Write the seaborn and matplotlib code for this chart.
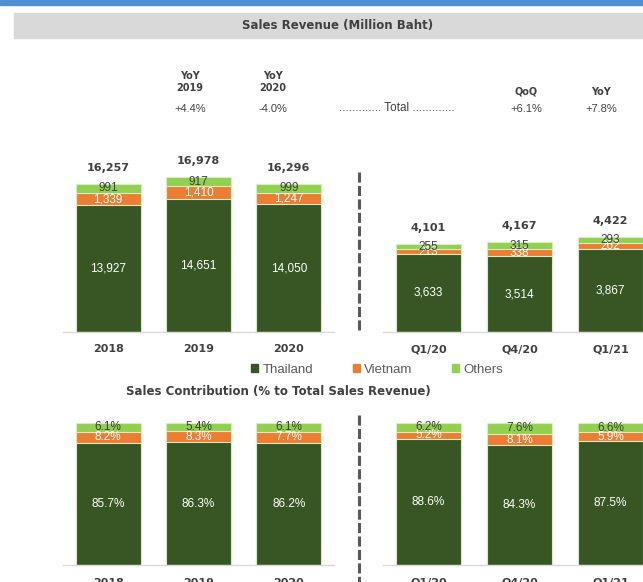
import matplotlib.pyplot as plt
import seaborn as sns
import pandas as pd
from matplotlib.patches import Rectangle, Patch
from matplotlib.lines import Line2D

years = ['2018', '2019', '2020']
quarters = ['Q1/20', 'Q4/20', 'Q1/21']

thailand_year = [13927, 14651, 14050]
vietnam_year = [1339, 1410, 1247]
others_year = [991, 917, 999]

thailand_qtr = [3633, 3514, 3867]
vietnam_qtr = [213, 338, 262]
others_qtr = [255, 315, 293]

thailand_pct_year = [85.7, 86.3, 86.2]
vietnam_pct_year = [8.2, 8.3, 7.7]
others_pct_year = [6.1, 5.4, 6.1]

thailand_pct_qtr = [88.6, 84.3, 87.5]
vietnam_pct_qtr = [5.2, 8.1, 5.9]
others_pct_qtr = [6.2, 7.6, 6.6]

growth_heads = ['YoY\n2019', 'YoY\n2020', 'QoQ', 'YoY']
growth_values = ['+4.4%', '-4.0%', '+6.1%', '+7.8%']

C_TH = '#375623'
C_VN = '#ED7D31'
C_OT = '#92D050'
EDGE = '#d8ecc8'
DARK = '#404040'
BOLD = ['DejaVu Sans']
BODY = ['Liberation Sans', 'DejaVu Sans']

W, H = 643, 582
sns.set_style('white')
fig = plt.figure(figsize=(W / 100, H / 100), dpi=100)


def box(l, r, top, bottom):
    # pixel box (from top-left) -> figure coords
    return [l / W, (H - bottom) / H, (r - l) / W, (bottom - top) / H]


def stacked(ax, cats, th, vn, ot, ymax, fmt, show_total):
    df = pd.DataFrame({'cat': cats, 'Thailand': th, 'Vietnam': vn, 'Others': ot})
    df['top2'] = df['Thailand'] + df['Vietnam']
    df['top3'] = df['top2'] + df['Others']
    for col, c in [('top3', C_OT), ('top2', C_VN), ('Thailand', C_TH)]:
        sns.barplot(data=df, x='cat', y=col, color=c, saturation=1, width=0.72,
                    edgecolor=EDGE, linewidth=0.8, ax=ax)
    for i, r in df.iterrows():
        ax.text(i, r['Thailand'] / 2, fmt(r['Thailand']), ha='center', va='center',
                color='white', fontsize=8.5, family=BODY)
        ax.text(i, r['Thailand'] + r['Vietnam'] / 2, fmt(r['Vietnam']), ha='center',
                va='center', color='white', fontsize=8.5, family=BODY)
        ax.text(i, r['top2'] + r['Others'] / 2, fmt(r['Others']), ha='center',
                va='center', color=DARK, fontsize=8.5, family=BODY)
        if show_total:
            ax.annotate(fmt(r['top3']), (i, r['top3']), xytext=(0, 11.5),
                        textcoords='offset points', ha='center', va='center',
                        fontsize=8, fontweight='bold', color=DARK, family=BOLD)
    ax.set_xlim(-0.5, 2.5)
    ax.set_ylim(0, ymax)
    ax.set_xlabel('')
    ax.set_ylabel('')
    ax.set_yticks([])
    for s in ['top', 'left', 'right']:
        ax.spines[s].set_visible(False)
    ax.spines['bottom'].set_color('#d9d9d9')
    ax.spines['bottom'].set_linewidth(1)
    ax.tick_params(axis='x', length=0, pad=9, labelsize=8, labelcolor=DARK)
    for t in ax.get_xticklabels():
        t.set_fontweight('bold')
        t.set_family(BOLD)
    ax.patch.set_alpha(0)


num = lambda v: f'{int(round(v)):,}'
pct = lambda v: f'{v:.1f}%'

ax1 = fig.add_axes(box(63, 334, 160, 332))
stacked(ax1, years, thailand_year, vietnam_year, others_year, 172 / 0.00911, num, True)
ax2 = fig.add_axes(box(383, 656, 160, 332))
stacked(ax2, quarters, thailand_qtr, vietnam_qtr, others_qtr, 172 / 0.0215, num, True)
ax3 = fig.add_axes(box(63, 334, 423, 565))
stacked(ax3, years, thailand_pct_year, vietnam_pct_year, others_pct_year, 100, pct, False)
ax4 = fig.add_axes(box(383, 656, 423, 565))
stacked(ax4, quarters, thailand_pct_qtr, vietnam_pct_qtr, others_pct_qtr, 100, pct, False)

# header band and title box
fig.patches.append(Rectangle((0, (H - 5) / H), 1, 5 / H, transform=fig.transFigure,
                             color='#4f8fd0', zorder=0))
fig.patches.append(Rectangle((14 / W, (H - 38) / H), (W - 14) / W, 25 / H,
                             transform=fig.transFigure, color='#d9d9d9', zorder=0))
fig.text(338 / W, (H - 26) / H, 'Sales Revenue (Million Baht)', ha='center', va='center',
         fontsize=8.5, fontweight='bold', color=DARK, family=BOLD)

# growth header
head_x = [190, 273, 526, 601]
for x, h, v in zip(head_x, growth_heads, growth_values):
    y_head = 82 if '\n' in h else 92
    fig.text(x / W, (H - y_head) / H, h, ha='center', va='center', fontsize=7,
             fontweight='bold', color=DARK, family=BOLD, linespacing=1.15)
    fig.text(x / W, (H - 109) / H, v, ha='center', va='center', fontsize=8,
             color=DARK, family=BODY)
fig.text(397 / W, (H - 108) / H, '............. Total .............', ha='center',
         va='center', fontsize=8.5, color=DARK, family=BODY)

# dashed separators
for y0, y1 in [(172, 330), (415, 582)]:
    fig.add_artist(Line2D([358.5 / W, 358.5 / W], [(H - y0) / H, (H - y1) / H],
                          transform=fig.transFigure, color='#595959', lw=2.2,
                          linestyle=(0, (3.3, 1.1)), solid_capstyle='butt',
                          dash_capstyle='butt'))

handles = [Patch(color=C_TH, label='Thailand'), Patch(color=C_VN, label='Vietnam'),
           Patch(color=C_OT, label='Others')]
fig.legend(handles=handles, loc='center', bbox_to_anchor=(377 / W, (H - 370) / H),
           ncol=3, frameon=False, prop={'family': BODY, 'size': 9.5},
           handlelength=0.55, handleheight=0.55, handletextpad=0.3,
           columnspacing=3.0, labelcolor='#595959')

fig.text(278 / W, (H - 392) / H, 'Sales Contribution (% to Total Sales Revenue)',
         ha='center', va='center', fontsize=8.5, fontweight='bold', color=DARK,
         family=BOLD)

fig.savefig('out.png', dpi=100)
